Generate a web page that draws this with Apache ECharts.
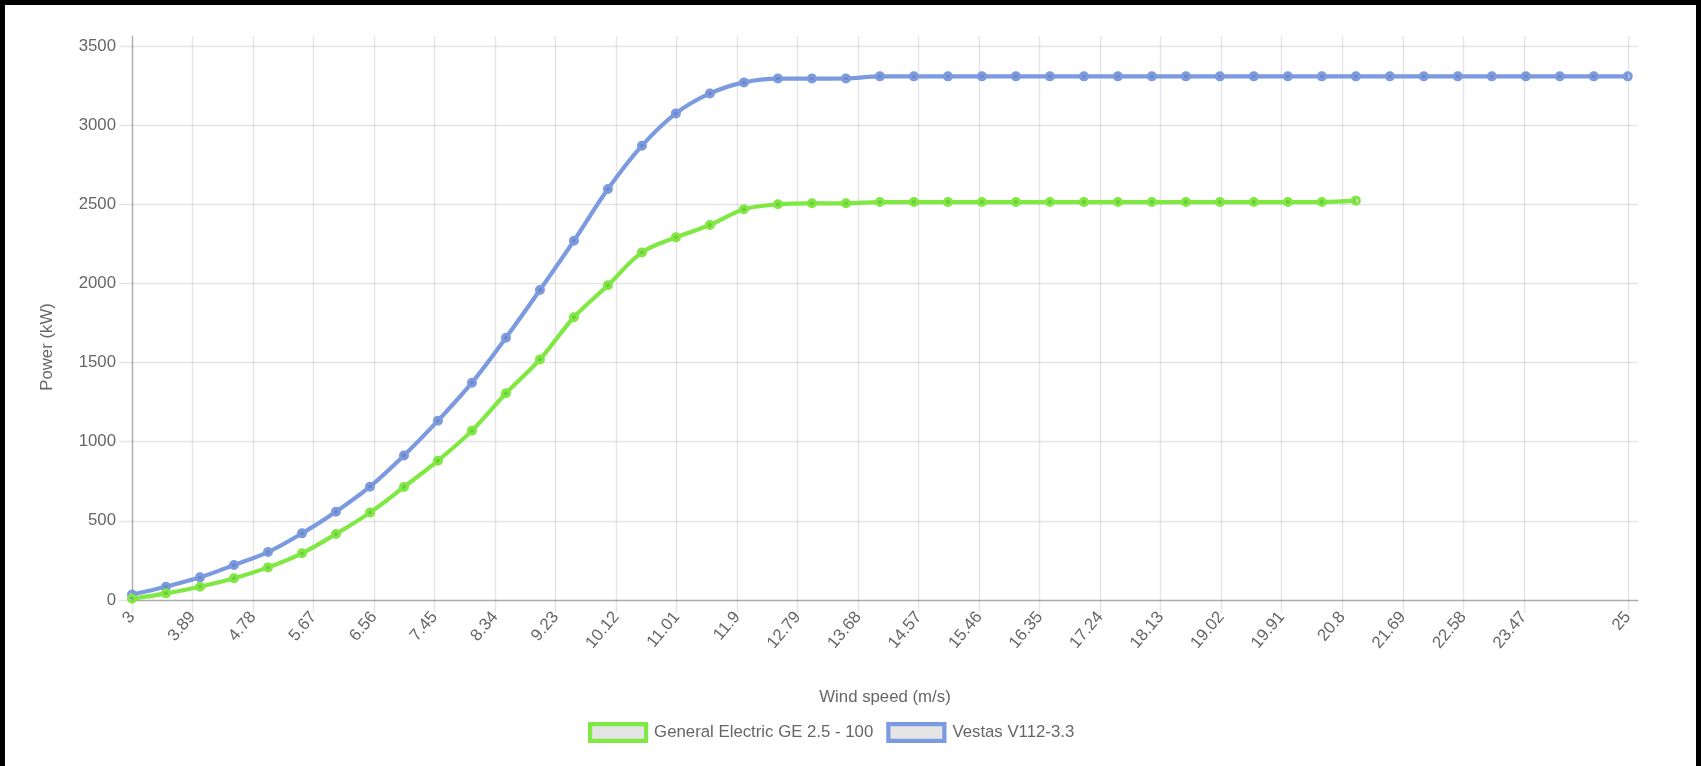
<!DOCTYPE html>
<html>
<head>
<meta charset="utf-8">
<script src="https://cdn.jsdelivr.net/npm/echarts@6/dist/echarts.min.js"></script>
<style>
  html, body { margin: 0; padding: 0; background: #000; width: 1701px; height: 766px; overflow: hidden; }
  #chart { position: absolute; left: 5px; top: 5px; width: 1691px; height: 761px; background: #fff; }
</style>
</head>
<body>
<div id="chart"></div>
<script>
// Wind speeds (m/s), 0.5 step
const windSpeeds = [3, 3.5, 4, 4.5, 5, 5.5, 6, 6.5, 7, 7.5, 8, 8.5, 9, 9.5, 10, 10.5, 11, 11.5, 12, 12.5,
  13, 13.5, 14, 14.5, 15, 15.5, 16, 16.5, 17, 17.5, 18, 18.5, 19, 19.5, 20, 20.5, 21, 21.5, 22, 22.5,
  23, 23.5, 24, 24.5, 25];
// General Electric GE 2.5 - 100 (kW), 3 .. 21 m/s
const gePower = [8, 42, 84, 137, 206, 295, 417, 552, 714, 880, 1070, 1306, 1520, 1786, 1988, 2196, 2291, 2369, 2468, 2500,
  2506, 2506, 2514, 2514, 2514, 2514, 2514, 2514, 2514, 2514, 2514, 2514, 2514, 2514, 2514, 2514, 2523];
// Vestas V112-3.3 (kW), 3 .. 25 m/s
const vestasPower = [35, 84, 143, 221, 303, 421, 558, 716, 913, 1133, 1373, 1657, 1958, 2270, 2596, 2870, 3074, 3200, 3270, 3294,
  3294, 3295, 3308, 3308, 3308, 3308, 3308, 3308, 3308, 3308, 3308, 3308, 3308, 3308, 3308, 3308, 3308, 3308, 3308, 3308,
  3308, 3308, 3308, 3308, 3308];
// Axis tick labels
const xTickLabels = [3, 3.89, 4.78, 5.67, 6.56, 7.45, 8.34, 9.23, 10.12, 11.01, 11.9, 12.79, 13.68, 14.57, 15.46,
  16.35, 17.24, 18.13, 19.02, 19.91, 20.8, 21.69, 22.58, 23.47, 25];
const yTickLabels = [0, 500, 1000, 1500, 2000, 2500, 3000, 3500];
const seriesNames = ['General Electric GE 2.5 - 100', 'Vestas V112-3.3'];
const seriesColors = ['#7fe842', '#7b9ae0'];

const FONT = '"Liberation Sans", Arial, Helvetica, sans-serif';
const TXT = '#666';
const FS = 16.8;

const chart = echarts.init(document.getElementById('chart'), null, { renderer: 'canvas' });

function pairs(vals) { return vals.map((v, i) => [windSpeeds[i], v]); }

function lineSeries(idx, vals) {
  return {
    type: 'line',
    name: seriesNames[idx],
    data: pairs(vals),
    smooth: 0.35,
    symbol: 'circle',
    symbolSize: 7,
    showSymbol: true,
    z: 3 - idx,
    lineStyle: { color: seriesColors[idx], width: 4.2 },
    itemStyle: { color: 'rgba(0,0,0,0.12)', borderColor: seriesColors[idx], borderWidth: 3, opacity: 1 },
    emphasis: { disabled: true }
  };
}

chart.setOption({
  animation: false,
  textStyle: { fontFamily: FONT },
  grid: { left: 127, top: 31, width: 1506, height: 564 },
  xAxis: {
    type: 'value',
    min: 3,
    max: 25.15,
    name: 'Wind speed (m/s)',
    nameLocation: 'middle',
    nameGap: 97,
    nameTextStyle: { color: TXT, fontSize: FS, fontFamily: FONT, verticalAlign: 'middle' },
    axisLine: { show: true, onZero: false, lineStyle: { color: 'rgba(0,0,0,0.25)', width: 1.4 } },
    axisTick: { show: true, length: 13, customValues: xTickLabels, lineStyle: { color: 'rgba(0,0,0,0.1)', width: 1.4 } },
    axisLabel: { customValues: xTickLabels, rotate: 50, margin: 14, color: TXT, fontSize: FS, fontFamily: FONT,
      formatter: v => String(v) },
    splitLine: { show: true, customValues: xTickLabels, lineStyle: { color: 'rgba(0,0,0,0.1)', width: 1.4 } }
  },
  yAxis: {
    type: 'value',
    min: 0,
    max: 3563,
    name: 'Power (kW)',
    nameLocation: 'middle',
    nameGap: 76,
    nameTextStyle: { color: TXT, fontSize: FS, fontFamily: FONT, padding: [0, 58, 0, 0] },
    axisLine: { show: true, lineStyle: { color: 'rgba(0,0,0,0.25)', width: 1.4 } },
    axisTick: { show: true, length: 13, customValues: yTickLabels, lineStyle: { color: 'rgba(0,0,0,0.1)', width: 1.4 } },
    axisLabel: { customValues: yTickLabels, margin: 16, color: TXT, fontSize: FS, fontFamily: FONT,
      formatter: v => String(v) },
    splitLine: { show: true, customValues: yTickLabels, lineStyle: { color: 'rgba(0,0,0,0.1)', width: 1.4 } }
  },
  legend: {
    left: 583,
    top: 717,
    padding: 0,
    itemGap: 13,
    itemWidth: 56,
    itemHeight: 16.8,
    icon: 'rect',
    textStyle: { color: TXT, fontSize: FS, fontFamily: FONT, padding: [0, 0, 0, 3] },
    data: seriesNames.map((n, i) => ({
      name: n,
      itemStyle: { color: 'rgba(0,0,0,0.1)', borderColor: seriesColors[i], borderWidth: 4.2 }
    }))
  },
  series: [lineSeries(0, gePower), lineSeries(1, vestasPower)]
});
</script>
</body>
</html>
